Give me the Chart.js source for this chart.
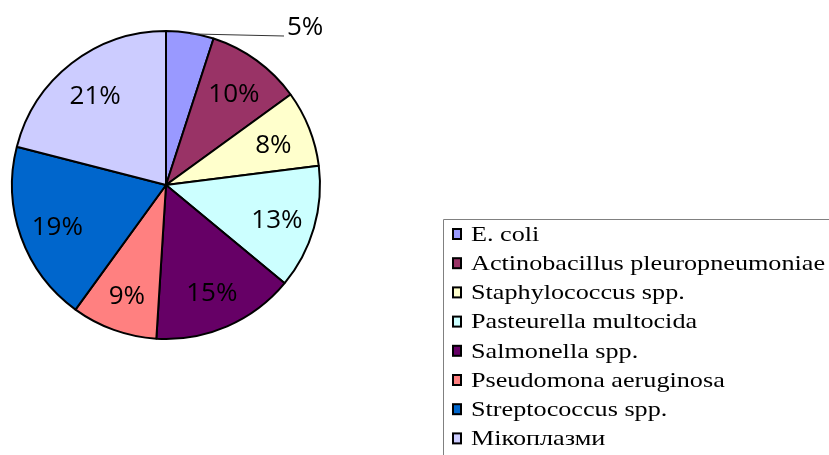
<!DOCTYPE html>
<html>
<head>
<meta charset="utf-8">
<script src="https://cdn.jsdelivr.net/npm/chart.js@4.4.0/dist/chart.umd.min.js"></script>
<style>
    html, body { margin: 0; padding: 0; background: #ffffff; }
    #wrap { position: relative; width: 829px; height: 455px; }
</style>
</head>
<body>
<div id="wrap">
    <canvas id="chart" width="829" height="455"></canvas>
</div>
<script>
// data
const categories = ["E. coli", "Actinobacillus pleuropneumoniae", "Staphylococcus spp.", "Pasteurella multocida",
    "Salmonella spp.", "Pseudomona aeruginosa", "Streptococcus spp.", "Мікоплазми"];
const shares = [5, 10, 8, 13, 15, 9, 19, 21];
const sliceColors = ["#9999FF", "#993366", "#FFFFCC", "#CCFFFF", "#660066", "#FF8080", "#0066CC", "#CCCCFF"];

// percent labels inside the slices, plus the leader line for the small one
const percentLabels = {
    id: "percentLabels",
    afterDatasetsDraw(chart) {
        const ctx = chart.ctx;
        const meta = chart.getDatasetMeta(0);
        ctx.save();
        ctx.font = "26px 'Open Sans', 'DejaVu Sans', sans-serif";
        ctx.fillStyle = "#000000";
        ctx.textBaseline = "middle";
        meta.data.forEach((arc, i) => {
            const p = arc.getProps(["x", "y", "startAngle", "endAngle", "outerRadius"], true);
            const mid = (p.startAngle + p.endAngle) / 2;
            const txt = shares[i] + "%";
            if (shares[i] < 6) {
                // outside label with a thin line
                const sx = p.x + Math.cos(mid) * p.outerRadius;
                const sy = p.y + Math.sin(mid) * p.outerRadius;
                ctx.strokeStyle = "#333333";
                ctx.lineWidth = 1;
                ctx.beginPath();
                ctx.moveTo(sx, sy + 1);
                ctx.lineTo(p.x + 118, p.y - 149);
                ctx.stroke();
                ctx.textAlign = "left";
                ctx.fillText(txt, p.x + 121, p.y - 157);
            } else {
                const r = p.outerRadius * 0.75;
                ctx.textAlign = "center";
                ctx.fillText(txt, p.x + Math.cos(mid) * r, p.y + Math.sin(mid) * r + 3);
            }
        });
        ctx.restore();
    }
};

// legend box on the right, like the original
const boxLegend = {
    id: "boxLegend",
    afterDraw(chart) {
        const ctx = chart.ctx;
        const left = 443, top = 219, rowH = 29.2;
        ctx.save();
        ctx.strokeStyle = "#808080";
        ctx.lineWidth = 1;
        ctx.beginPath();
        ctx.moveTo(829, top + 0.5);
        ctx.lineTo(left + 0.5, top + 0.5);
        ctx.lineTo(left + 0.5, 455);
        ctx.stroke();
        ctx.font = "22px 'Liberation Serif', 'Times New Roman', serif";
        ctx.textAlign = "left";
        ctx.textBaseline = "middle";
        chart.data.labels.forEach((lab, i) => {
            const cy = top + 15 + i * rowH;
            ctx.fillStyle = sliceColors[i];
            ctx.fillRect(453, cy - 5, 8, 10);
            ctx.strokeStyle = "#000000";
            ctx.lineWidth = 2;
            ctx.strokeRect(453, cy - 5, 8, 10);
            ctx.fillStyle = "#000000";
            // the original legend text is a bit wider than plain Times
            ctx.save();
            ctx.translate(471, cy + 1);
            ctx.scale(1.19, 1);
            ctx.fillText(lab, 0, 0);
            ctx.restore();
        });
        ctx.restore();
    }
};

new Chart(document.getElementById("chart"), {
    type: "pie",
    data: {
        labels: categories,
        datasets: [{
            data: shares,
            backgroundColor: sliceColors,
            borderColor: "#000000",
            borderWidth: 2,
            borderAlign: "center"
        }]
    },
    options: {
        responsive: false,
        animation: false,
        radius: 154,
        layout: { padding: { left: 0, top: 0, right: 497, bottom: 85 } },
        plugins: {
            legend: { display: false },
            tooltip: { enabled: false }
        }
    },
    plugins: [percentLabels, boxLegend]
});
</script>
</body>
</html>
